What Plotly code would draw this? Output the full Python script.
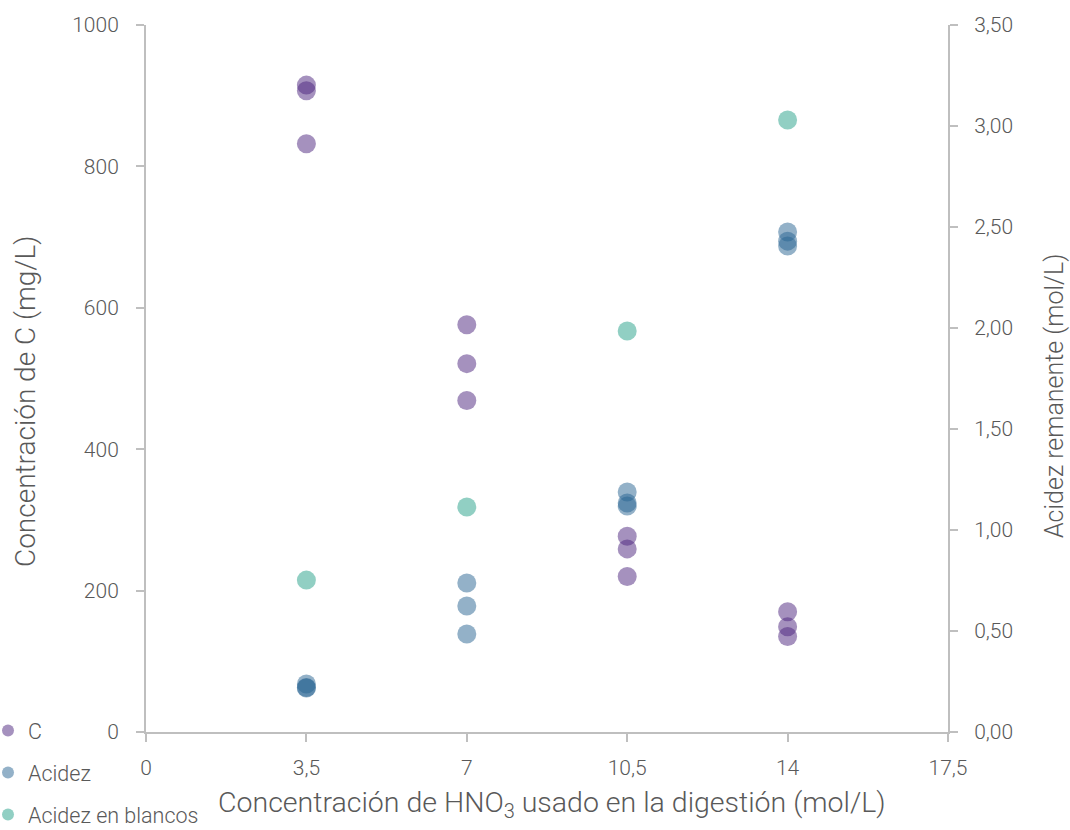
import plotly.graph_objects as go

# HNO3 concentration used in the digestion (mol/L)
x_levels = [3.5, 3.5, 3.5, 7, 7, 7, 10.5, 10.5, 10.5, 14, 14, 14]

# Carbon concentration (mg/L), left axis
c_vals = [915, 907, 832, 576, 521, 469, 277, 259, 220, 170, 149, 135]

# Remaining acidity (mol/L), right axis
acidez_vals = [0.238, 0.220, 0.218, 0.738, 0.624, 0.485, 1.188, 1.134, 1.119, 2.475, 2.43, 2.406]

# Acidity in blanks (mol/L), right axis
blanco_x = [3.5, 7, 10.5, 14]
blanco_vals = [0.752, 1.114, 1.985, 3.03]

x_ticks = [0, 3.5, 7, 10.5, 14, 17.5]
x_tick_text = ["0", "3,5", "7", "10,5", "14", "17,5"]

FONT = "Roboto"
TXT = "#595959"
AX = "#bfbfbf"
TICK_SIZE = 21

fig = go.Figure()

marker_common = dict(size=19, opacity=0.5, line=dict(width=0))

fig.add_trace(go.Scatter(
    x=x_levels, y=c_vals, mode="markers", name="C", legendgroup="c",
    marker=dict(color="#4b237d", **marker_common), yaxis="y",
))
fig.add_trace(go.Scatter(
    x=x_levels, y=acidez_vals, mode="markers", name="Acidez", legendgroup="a",
    marker=dict(color="#286491", **marker_common), yaxis="y2",
))
fig.add_trace(go.Scatter(
    x=blanco_x, y=blanco_vals, mode="markers", name="Acidez en blancos", legendgroup="b",
    marker=dict(color="#23a087", **marker_common), yaxis="y2",
))

axis_common = dict(
    showgrid=False, zeroline=False, showline=True, linecolor=AX, linewidth=2,
    ticks="outside", ticklen=8, tickcolor=AX, tickwidth=2,
    tickfont=dict(size=TICK_SIZE, color=TXT, family=FONT),
    automargin=False,
)

fig.update_layout(
    width=1070, height=830,
    margin=dict(l=146, r=122, t=25, b=98, autoexpand=False),
    paper_bgcolor="white", plot_bgcolor="white",
    separators=",.",
    font=dict(family=FONT, color=TXT, size=TICK_SIZE, weight=300),
    showlegend=True,
    legend=dict(
        orientation="v", x=-0.197, xanchor="left", y=0.031, yanchor="top",
        font=dict(size=21.5, color=TXT, family=FONT), tracegroupgap=11,
        itemsizing="constant", bgcolor="rgba(0,0,0,0)",
    ),
    xaxis=dict(
        range=[0, 17.5], tickvals=x_ticks, ticktext=x_tick_text,
        ticklabelstandoff=8, **axis_common,
    ),
    yaxis=dict(
        range=[0, 1000], tickvals=[0, 200, 400, 600, 800, 1000],
        ticklabelstandoff=13, **axis_common,
    ),
    yaxis2=dict(
        range=[0, 3.5], tickvals=[0, 0.5, 1, 1.5, 2, 2.5, 3, 3.5], tickformat=".2f",
        overlaying="y", side="right", ticklabelstandoff=12, **axis_common,
    ),
    annotations=[
        dict(text="Concentración de HNO<sub>3</sub> usado en la digestión (mol/L)",
             xref="paper", yref="paper", x=0.506, y=-0.103, xanchor="center", yanchor="middle",
             showarrow=False, font=dict(size=28.5, color=TXT, family=FONT)),
        dict(text="Concentración de C (mg/L)",
             xref="paper", yref="paper", x=-0.151, y=0.468, xanchor="center", yanchor="middle",
             textangle=-90, showarrow=False, font=dict(size=28, color=TXT, family=FONT)),
        dict(text="Acidez remanente (mol/L)",
             xref="paper", yref="paper", x=1.132, y=0.475, xanchor="center", yanchor="middle",
             textangle=-90, showarrow=False, font=dict(size=25, color=TXT, family=FONT)),
    ],
)

fig.write_html("out.html")
